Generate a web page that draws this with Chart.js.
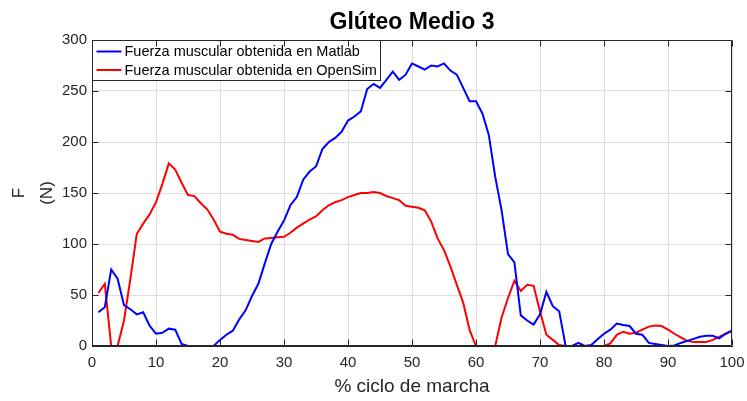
<!DOCTYPE html>
<html>
<head>
<meta charset="utf-8">
<script src="https://cdn.jsdelivr.net/npm/chart.js@4.4.1/dist/chart.umd.min.js"></script>
<style>
  html, body { margin: 0; padding: 0; background: #ffffff; }
  canvas { display: block; }
</style>
</head>
<body>
<canvas id="c" width="747" height="401"></canvas>
<script>
// ---- Data ----
const chartTitle = 'Glúteo Medio 3';
const xAxisTitle = '% ciclo de marcha';
const yAxisTitle = ['F', '(N)'];
const seriesNames = ['Fuerza muscular obtenida en Matlab', 'Fuerza muscular obtenida en OpenSim'];

const pctCycle = [
  1,2,3,4,5,6,7,8,9,10,11,12,13,14,15,16,17,18,19,20,
  21,22,23,24,25,26,27,28,29,30,31,32,33,34,35,36,37,38,39,40,
  41,42,43,44,45,46,47,48,49,50,51,52,53,54,55,56,57,58,59,60,
  61,62,63,64,65,66,67,68,69,70,71,72,73,74,75,76,77,78,79,80,
  81,82,83,84,85,86,87,88,89,90,91,92,93,94,95,96,97,98,99,100
];

const matlabForce = [
  33,38,75,66,40,36,31,33,20,12,13,17,16,2,0,0,0,0,0,6,
  11,15,26,35,49,61,81,100,112,123,138,146,163,171,176,193,200,204,210,221,
  225,230,252,257,253,261,269,261,266,277,274,271,275,274,277,270,266,253,240,240,
  228,207,166,133,90,82,30,25,21,31,53,39,34,0,0,3,0,1,6.5,12,
  16,22,20.5,19.6,12,11,3,2,1,0,0.5,3,5,7,9,10,10,7.5,12,15
];

const opensimForce = [
  52,61,0,0,25,66,110,120,129,141,159,179,173,160,148,147,140,134,124,112,
  110,109,105,104,103,102,105.5,106,106.5,107,111,116,120,124,127,133,138,141,143,146,
  148,150,150,151,150,147,145,143,137.5,136.5,135.5,133,122,105.5,94,78,60,42.5,15.7,0,
  0,0,0,28,47,64,54,60,59,34,11,6,1,0,0,0,0,0,0,0,
  2.6,11,14,12,13,16,19,20,19.6,16,12,8.5,5,4,4,4,6,9,12,15
];

const xTickValues = [0,10,20,30,40,50,60,70,80,90,100];
const yTickValues = [0,50,100,150,200,250,300];

// ---- Styling ----
const FONT = "'Liberation Sans', Arial, Helvetica, sans-serif";
const AXIS_COLOR = '#262626';
const GRID_COLOR = '#dfdfdf';
const seriesColors = ['#0000ff', '#ff0000'];

const toPoints = (xs, ys) => xs.map((x, i) => ({ x: x, y: ys[i] }));

// Box + inward ticks plugin (MATLAB style axes)
const boxPlugin = {
  id: 'boxPlugin',
  afterDraw(chart) {
    const { ctx, chartArea: a, scales: { x, y } } = chart;
    const L = Math.round(a.left) + 0.5, R = Math.round(a.right) - 0.5;
    const T = Math.round(a.top) + 0.5, B = Math.round(a.bottom) - 0.5;
    const tl = 6;
    ctx.save();
    ctx.strokeStyle = AXIS_COLOR;
    ctx.lineWidth = 1;
    ctx.beginPath();
    ctx.rect(L, T, R - L, B - T);
    xTickValues.forEach(v => {
      const px = Math.round(x.getPixelForValue(v)) + 0.5;
      ctx.moveTo(px, B); ctx.lineTo(px, B - tl);
      ctx.moveTo(px, T); ctx.lineTo(px, T + tl);
    });
    yTickValues.forEach(v => {
      const py = Math.round(y.getPixelForValue(v)) + 0.5;
      ctx.moveTo(L, py); ctx.lineTo(L + tl, py);
      ctx.moveTo(R, py); ctx.lineTo(R - tl, py);
    });
    ctx.stroke();
    ctx.restore();
  }
};

// Legend box inside plot (top-left), built from the datasets
const legendPlugin = {
  id: 'legendBox',
  afterDatasetsDraw(chart) {
    const { ctx, chartArea: a } = chart;
    const ds = chart.data.datasets;
    const left = Math.round(a.left) + 0.5, top = Math.round(a.top) + 0.5;
    const rowH = 18.5, lineLen = 25;
    ctx.save();
    ctx.font = '14.5px ' + FONT;
    const textW = Math.max(...ds.map(d => ctx.measureText(d.label).width));
    const w = Math.round(4 + lineLen + 3 + textW + 4);
    const h = 40;
    ctx.fillStyle = '#ffffff';
    ctx.fillRect(left, top, w, h);
    ctx.strokeStyle = AXIS_COLOR;
    ctx.lineWidth = 1;
    ctx.strokeRect(left, top, w, h);
    ds.forEach((d, i) => {
      const cy = top + 11 + i * rowH;
      ctx.strokeStyle = d.borderColor;
      ctx.lineWidth = 2;
      ctx.beginPath();
      ctx.moveTo(left + 4, cy);
      ctx.lineTo(left + 4 + lineLen, cy);
      ctx.stroke();
      ctx.fillStyle = '#000000';
      ctx.textBaseline = 'middle';
      ctx.textAlign = 'left';
      ctx.fillText(d.label, left + 4 + lineLen + 3, cy + 0.5);
    });
    ctx.restore();
  }
};

new Chart(document.getElementById('c'), {
  type: 'line',
  data: {
    datasets: [
      {
        label: seriesNames[0],
        data: toPoints(pctCycle, matlabForce),
        borderColor: seriesColors[0],
        backgroundColor: seriesColors[0],
        borderWidth: 2,
        pointRadius: 0,
        tension: 0,
        fill: false
      },
      {
        label: seriesNames[1],
        data: toPoints(pctCycle, opensimForce),
        borderColor: seriesColors[1],
        backgroundColor: seriesColors[1],
        borderWidth: 2,
        pointRadius: 0,
        tension: 0,
        fill: false
      }
    ]
  },
  options: {
    responsive: false,
    animation: false,
    devicePixelRatio: 1,
    layout: { padding: { left: 0, right: 15, top: 0, bottom: 0 } },
    plugins: {
      legend: { display: false },
      tooltip: { enabled: false },
      title: {
        display: true,
        text: chartTitle,
        fullSize: false,
        color: '#000000',
        font: { family: FONT, size: 23, weight: 'bold', lineHeight: 1.2 },
        padding: { top: 9, bottom: 3.4 }
      }
    },
    scales: {
      x: {
        type: 'linear',
        min: 0,
        max: 100,
        afterFit: s => { s.height = 55; s.paddingLeft = 0; s.paddingRight = 0; },
        afterBuildTicks: s => { s.ticks = xTickValues.map(v => ({ value: v })); },
        grid: { color: GRID_COLOR, drawTicks: false, lineWidth: 1 },
        border: { display: true, color: AXIS_COLOR },
        ticks: {
          color: AXIS_COLOR,
          font: { family: FONT, size: 15 },
          padding: 8,
          maxRotation: 0,
          autoSkip: false
        },
        title: {
          display: true,
          text: xAxisTitle,
          color: AXIS_COLOR,
          font: { family: FONT, size: 19, lineHeight: 1.2 },
          padding: { top: 0, bottom: 3 }
        }
      },
      y: {
        type: 'linear',
        min: 0,
        max: 300,
        afterFit: s => { s.width = 92; s.paddingTop = 0; s.paddingBottom = 0; },
        afterBuildTicks: s => { s.ticks = yTickValues.map(v => ({ value: v })); },
        grid: { color: GRID_COLOR, drawTicks: false, lineWidth: 1 },
        border: { display: true, color: AXIS_COLOR },
        ticks: {
          color: AXIS_COLOR,
          font: { family: FONT, size: 15 },
          padding: 5,
          autoSkip: false
        },
        title: {
          display: true,
          text: yAxisTitle,
          color: AXIS_COLOR,
          font: { family: FONT, size: 17, lineHeight: '27.5px' },
          padding: { top: 6, bottom: 0 }
        }
      }
    }
  },
  plugins: [legendPlugin, boxPlugin]
});
</script>
</body>
</html>
